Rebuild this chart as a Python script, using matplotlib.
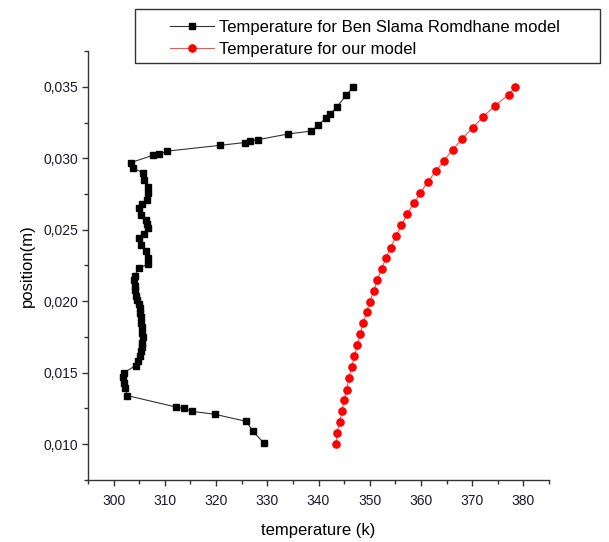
import matplotlib
matplotlib.use("Agg")
import matplotlib.pyplot as plt
from matplotlib.patches import Rectangle
from matplotlib.ticker import MultipleLocator, FuncFormatter

plt.rcParams['font.family'] = ['Liberation Sans', 'DejaVu Sans']

# Ben Slama Romdhane model (position in m, temperature in K)
pos_ben = [0.0101, 0.0109, 0.0116, 0.0121, 0.0123, 0.0125, 0.0126, 0.0134,
           0.0139, 0.0143, 0.0147, 0.0150, 0.0155, 0.0158, 0.0162, 0.0165,
           0.0168, 0.0171, 0.0175, 0.0178, 0.0182, 0.0185, 0.0189, 0.0192,
           0.0195, 0.0198, 0.0201, 0.0204, 0.0208, 0.0211, 0.0215, 0.0218,
           0.0223, 0.0226, 0.0230, 0.0235, 0.0239, 0.0244, 0.0247, 0.0251,
           0.0254, 0.0257, 0.0260, 0.0265, 0.0268, 0.0271, 0.0276, 0.0280,
           0.0285, 0.0290, 0.0293, 0.0297, 0.0302, 0.0303, 0.0305, 0.0309,
           0.0311, 0.0312, 0.0313, 0.0317, 0.0319, 0.0323, 0.0328, 0.0331,
           0.0336, 0.0344, 0.0350]
temp_ben = [329.3, 327.2, 325.9, 319.7, 315.3, 313.8, 312.2, 302.7,
            302.3, 302.1, 301.9, 302.0, 304.3, 304.7, 305.1, 305.4,
            305.5, 305.6, 305.7, 305.6, 305.5, 305.4, 305.3, 305.2,
            305.1, 304.9, 304.6, 304.4, 304.2, 304.1, 304.0, 304.1,
            304.9, 306.7, 306.8, 306.3, 305.4, 305.0, 306.0, 306.7,
            306.6, 306.3, 305.4, 304.9, 305.6, 306.5, 306.8, 306.7,
            306.0, 305.7, 303.8, 303.4, 307.6, 308.9, 310.5, 320.7,
            325.6, 326.6, 328.2, 334.1, 338.6, 339.9, 341.4, 342.3,
            343.6, 345.4, 346.8]

# our model
pos_our = [0.01000, 0.01077, 0.01155, 0.01232, 0.01307, 0.01382, 0.01460,
           0.01539, 0.01617, 0.01692, 0.01768, 0.01845, 0.01923, 0.01997,
           0.02073, 0.02150, 0.02227, 0.02303, 0.02375, 0.02453, 0.02532,
           0.02610, 0.02685, 0.02756, 0.02835, 0.02908, 0.02983, 0.03061,
           0.03138, 0.03213, 0.03291, 0.03366, 0.03444, 0.03500]
temp_our = [343.5, 343.6, 344.1, 344.6, 345.0, 345.5, 345.9,
            346.5, 347.0, 347.6, 348.1, 348.7, 349.4, 350.0,
            350.8, 351.5, 352.3, 353.2, 354.1, 355.1, 356.2,
            357.3, 358.6, 359.9, 361.3, 362.9, 364.5, 366.2,
            368.1, 370.1, 372.2, 374.4, 377.1, 378.4]

fig = plt.figure(figsize=(6.09, 5.42), dpi=100)
ax = fig.add_axes([0.1445, 0.1144, 0.757, 0.7915])

ax.plot(temp_ben, pos_ben, color='#333333', lw=0.8, marker='s', ms=5,
        mfc='black', mec='black', label='Temperature for Ben Slama Romdhane model')
ax.plot(temp_our, pos_our, color='#ff5050', lw=0.8, marker='o', ms=5.2,
        mfc='red', mec='red', label='Temperature for our model')

ax.set_xlim(295, 385)
ax.set_ylim(0.0075, 0.0375)
ax.xaxis.set_major_locator(MultipleLocator(10))
ax.xaxis.set_minor_locator(MultipleLocator(5))
ax.yaxis.set_major_locator(MultipleLocator(0.005))
ax.yaxis.set_minor_locator(MultipleLocator(0.0025))
ax.yaxis.set_major_formatter(FuncFormatter(lambda v, p: f"{v:.3f}".replace('.', ',')))

for s in ['top', 'right']:
    ax.spines[s].set_visible(False)
for s in ['left', 'bottom']:
    ax.spines[s].set_color('#333333')
    ax.spines[s].set_linewidth(1.0)
ax.tick_params(which='major', direction='out', length=4, width=1, color='#333333',
               labelsize=10, labelcolor='#1a1a2e', pad=3)
ax.tick_params(which='minor', direction='out', length=3, width=1, color='#333333')
ax.tick_params(axis='x', which='major', pad=6)

ax.set_xlabel('temperature (k)', fontsize=12, labelpad=11)
ax.set_ylabel('position(m)', fontsize=12, labelpad=6)

leg = ax.legend(loc='upper left', bbox_to_anchor=(0.2605, 0.985), bbox_transform=fig.transFigure,
                frameon=False, fontsize=12, handlelength=2.6, handletextpad=0.35,
                labelspacing=0.45, borderpad=0.2)
fig.patches.append(Rectangle((135 / 609, 1 - 63 / 542), 465 / 609, 54 / 542,
                             transform=fig.transFigure, fill=False, ec='#333333', lw=1.0))

fig.savefig('out.png', dpi=100)
